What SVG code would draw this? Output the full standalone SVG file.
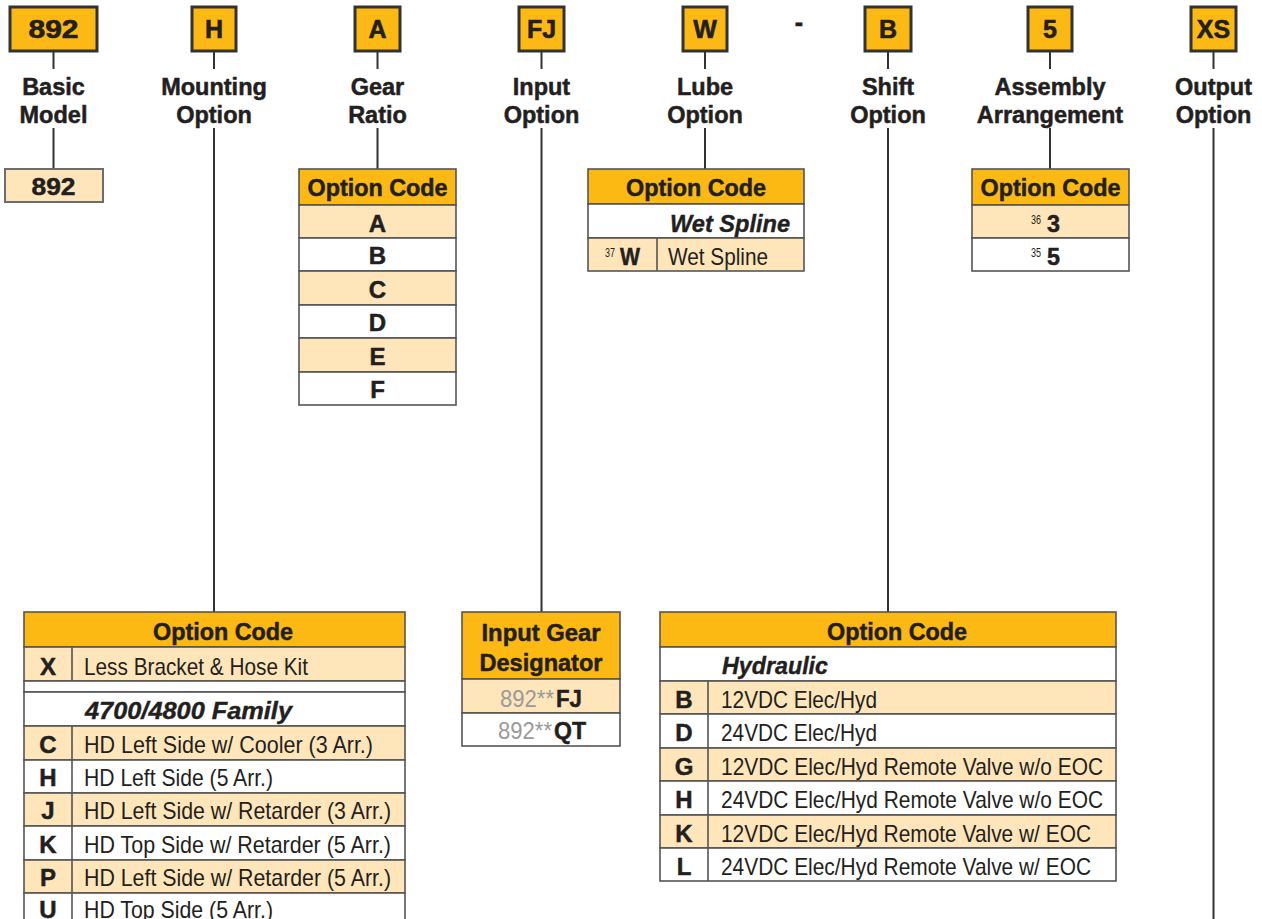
<svg xmlns="http://www.w3.org/2000/svg" width="1262" height="919" viewBox="0 0 1262 919">
<style>
text{font-family:"Liberation Sans",Arial,sans-serif;fill:#231f20}
.code{fill:#fdb913;stroke:#333;stroke-width:3}
.ct{font-size:25px;font-weight:bold;text-anchor:middle;stroke:#231f20;stroke-width:0.6}
.lbl{font-size:23.5px;font-weight:bold;text-anchor:middle;stroke:#231f20;stroke-width:0.5}
.hd{fill:#fdb913;stroke:#555;stroke-width:1.6}
.lt{fill:#ffe6ba;stroke:#555;stroke-width:1.6}
.wh{fill:#fff;stroke:#555;stroke-width:1.6}
.ht{font-size:24px;font-weight:bold;text-anchor:middle;stroke:#231f20;stroke-width:0.5}
.bc{font-size:24px;font-weight:bold;text-anchor:middle;stroke:#231f20;stroke-width:0.5}
.rg{font-size:24px}
.bi{font-size:24px;font-weight:bold;font-style:italic;stroke:#231f20;stroke-width:0.4}
.bb{font-size:24px;font-weight:bold;stroke:#231f20;stroke-width:0.5}
.sup{font-size:13px}
.gr{fill:#9a9a9a}
.dv{stroke:#555;stroke-width:1.6}
.cn{stroke:#333;stroke-width:2;fill:none}
</style>
<g id="connectors">
<path class="cn" d="M53.5 52V69M53.5 128V168"/>
<path class="cn" d="M214 52V69M214 128V612"/>
<path class="cn" d="M377.5 52V69M377.5 128V169"/>
<path class="cn" d="M541.5 52V69M541.5 128V612"/>
<path class="cn" d="M705 52V69M705 128V169"/>
<path class="cn" d="M888 52V69M888 128V612"/>
<path class="cn" d="M1050 52V69M1050 128V169"/>
<path class="cn" d="M1213.5 52V69M1213.5 128V919"/>
</g>
<g id="dash"><text x="799" y="31" class="ct">-</text></g>
<g id="basic-model">
<rect class="code" x="10" y="7" width="87" height="44"/>
<text x="53.5" y="38" class="ct" textLength="50" lengthAdjust="spacingAndGlyphs">892</text>
<text x="53.5" y="95" class="lbl">Basic</text>
<text x="53.5" y="123" class="lbl">Model</text>
</g>
<g id="basic-model-table">
<rect x="5" y="169" width="98" height="33" fill="#ffe6ba" stroke="#6d6d6d" stroke-width="2"/>
<text x="53.5" y="195" class="bc" textLength="44" lengthAdjust="spacingAndGlyphs">892</text>
</g>
<g id="mounting-option">
<rect class="code" x="192" y="7" width="44" height="44"/>
<text x="214" y="38" class="ct">H</text>
<text x="214" y="95" class="lbl">Mounting</text>
<text x="214" y="123" class="lbl">Option</text>
</g>
<g id="gear-ratio">
<rect class="code" x="355" y="7" width="45" height="44"/>
<text x="377.5" y="38" class="ct">A</text>
<text x="377.5" y="95" class="lbl">Gear</text>
<text x="377.5" y="123" class="lbl">Ratio</text>
</g>
<g id="input-option">
<rect class="code" x="519" y="7" width="45" height="44"/>
<text x="541.5" y="38" class="ct">FJ</text>
<text x="541.5" y="95" class="lbl">Input</text>
<text x="541.5" y="123" class="lbl">Option</text>
</g>
<g id="lube-option">
<rect class="code" x="683" y="7" width="44" height="44"/>
<text x="705" y="38" class="ct">W</text>
<text x="705" y="95" class="lbl">Lube</text>
<text x="705" y="123" class="lbl">Option</text>
</g>
<g id="shift-option">
<rect class="code" x="865" y="7" width="46" height="44"/>
<text x="888" y="38" class="ct">B</text>
<text x="888" y="95" class="lbl">Shift</text>
<text x="888" y="123" class="lbl">Option</text>
</g>
<g id="assembly-arrangement">
<rect class="code" x="1028" y="7" width="44" height="44"/>
<text x="1050" y="38" class="ct">5</text>
<text x="1050" y="95" class="lbl">Assembly</text>
<text x="1050" y="123" class="lbl">Arrangement</text>
</g>
<g id="output-option">
<rect class="code" x="1191" y="7" width="45" height="44"/>
<text x="1213.5" y="38" class="ct">XS</text>
<text x="1213.5" y="95" class="lbl">Output</text>
<text x="1213.5" y="123" class="lbl">Option</text>
</g>
<g id="gear-ratio-table">
<rect class="hd" x="299" y="169" width="157" height="36"/>
<rect class="lt" x="299" y="205" width="157" height="33"/>
<rect class="wh" x="299" y="238" width="157" height="33"/>
<rect class="lt" x="299" y="271" width="157" height="34"/>
<rect class="wh" x="299" y="305" width="157" height="33"/>
<rect class="lt" x="299" y="338" width="157" height="34"/>
<rect class="wh" x="299" y="372" width="157" height="33"/>
<text x="377.5" y="196" class="ht" textLength="140" lengthAdjust="spacingAndGlyphs">Option Code</text>
<text x="377.5" y="232" class="bc">A</text>
<text x="377.5" y="264" class="bc">B</text>
<text x="377.5" y="298" class="bc">C</text>
<text x="377.5" y="331" class="bc">D</text>
<text x="377.5" y="365" class="bc">E</text>
<text x="377.5" y="398" class="bc">F</text>
</g>
<g id="lube-table">
<rect class="hd" x="588" y="169" width="216" height="35"/>
<rect class="wh" x="588" y="204" width="216" height="34"/>
<rect class="lt" x="588" y="238" width="216" height="33"/>
<line class="dv" x1="657" y1="238" x2="657" y2="271"/>
<text x="696" y="196" class="ht" textLength="140" lengthAdjust="spacingAndGlyphs">Option Code</text>
<text x="670" y="232" class="bi" textLength="120" lengthAdjust="spacingAndGlyphs">Wet Spline</text>
<text x="605" y="257" class="sup" textLength="10" lengthAdjust="spacingAndGlyphs">37</text>
<text x="620" y="265" class="bb" textLength="20" lengthAdjust="spacingAndGlyphs">W</text>
<text x="668" y="265" class="rg" textLength="100" lengthAdjust="spacingAndGlyphs">Wet Spline</text>
</g>
<g id="assembly-table">
<rect class="hd" x="972" y="169" width="157" height="36"/>
<rect class="lt" x="972" y="205" width="157" height="33"/>
<rect class="wh" x="972" y="238" width="157" height="33"/>
<text x="1050.5" y="196" class="ht" textLength="140" lengthAdjust="spacingAndGlyphs">Option Code</text>
<text x="1031" y="224" class="sup" textLength="10" lengthAdjust="spacingAndGlyphs">36</text>
<text x="1047" y="232" class="bb" textLength="13" lengthAdjust="spacingAndGlyphs">3</text>
<text x="1031" y="257" class="sup" textLength="10" lengthAdjust="spacingAndGlyphs">35</text>
<text x="1047" y="265" class="bb" textLength="13" lengthAdjust="spacingAndGlyphs">5</text>
</g>
<g id="mounting-table">
<rect class="hd" x="24" y="612" width="381" height="35"/>
<rect class="lt" x="24" y="647" width="381" height="34"/>
<rect class="wh" x="24" y="681" width="381" height="11"/>
<rect class="wh" x="24" y="692" width="381" height="34"/>
<rect class="lt" x="24" y="726" width="381" height="34"/>
<rect class="wh" x="24" y="760" width="381" height="33"/>
<rect class="lt" x="24" y="793" width="381" height="33"/>
<rect class="wh" x="24" y="826" width="381" height="34"/>
<rect class="lt" x="24" y="860" width="381" height="33"/>
<rect class="wh" x="24" y="893" width="381" height="34"/>
<path class="dv" d="M72 647V681M72 726V927"/>
<text x="223" y="640" class="ht" textLength="140" lengthAdjust="spacingAndGlyphs">Option Code</text>
<text x="48" y="675" class="bc">X</text>
<text x="84" y="675" class="rg" textLength="224" lengthAdjust="spacingAndGlyphs">Less Bracket &amp; Hose Kit</text>
<text x="85" y="719" class="bi" textLength="207" lengthAdjust="spacingAndGlyphs">4700/4800 Family</text>
<text x="48" y="753" class="bc">C</text>
<text x="84" y="753" class="rg" textLength="289" lengthAdjust="spacingAndGlyphs">HD Left Side w/ Cooler (3 Arr.)</text>
<text x="48" y="786" class="bc">H</text>
<text x="84" y="786" class="rg" textLength="189" lengthAdjust="spacingAndGlyphs">HD Left Side (5 Arr.)</text>
<text x="48" y="819" class="bc">J</text>
<text x="84" y="819" class="rg" textLength="307" lengthAdjust="spacingAndGlyphs">HD Left Side w/ Retarder (3 Arr.)</text>
<text x="48" y="853" class="bc">K</text>
<text x="84" y="853" class="rg" textLength="307" lengthAdjust="spacingAndGlyphs">HD Top Side w/ Retarder (5 Arr.)</text>
<text x="48" y="886" class="bc">P</text>
<text x="84" y="886" class="rg" textLength="307" lengthAdjust="spacingAndGlyphs">HD Left Side w/ Retarder (5 Arr.)</text>
<text x="48" y="918" class="bc">U</text>
<text x="84" y="918" class="rg" textLength="189" lengthAdjust="spacingAndGlyphs">HD Top Side (5 Arr.)</text>
</g>
<g id="input-gear-table">
<rect class="hd" x="462" y="612" width="158" height="67"/>
<rect class="lt" x="462" y="679" width="158" height="34"/>
<rect class="wh" x="462" y="713" width="158" height="33"/>
<text x="541" y="641" class="ht" textLength="119" lengthAdjust="spacingAndGlyphs">Input Gear</text>
<text x="541" y="671" class="ht" textLength="123" lengthAdjust="spacingAndGlyphs">Designator</text>
<text x="500" y="707" class="rg gr" textLength="54" lengthAdjust="spacingAndGlyphs">892**</text>
<text x="556" y="707" class="bb" textLength="26" lengthAdjust="spacingAndGlyphs">FJ</text>
<text x="498" y="739" class="rg gr" textLength="54" lengthAdjust="spacingAndGlyphs">892**</text>
<text x="554" y="739" class="bb" textLength="32" lengthAdjust="spacingAndGlyphs">QT</text>
</g>
<g id="shift-table">
<rect class="hd" x="660" y="612" width="456" height="35"/>
<rect class="wh" x="660" y="647" width="456" height="34"/>
<rect class="lt" x="660" y="681" width="456" height="33"/>
<rect class="wh" x="660" y="714" width="456" height="34"/>
<rect class="lt" x="660" y="748" width="456" height="33"/>
<rect class="wh" x="660" y="781" width="456" height="34"/>
<rect class="lt" x="660" y="815" width="456" height="33"/>
<rect class="wh" x="660" y="848" width="456" height="33"/>
<path class="dv" d="M708 681V881"/>
<text x="897" y="640" class="ht" textLength="140" lengthAdjust="spacingAndGlyphs">Option Code</text>
<text x="722" y="674" class="bi" textLength="106" lengthAdjust="spacingAndGlyphs">Hydraulic</text>
<text x="684" y="708" class="bc">B</text>
<text x="721" y="708" class="rg" textLength="156" lengthAdjust="spacingAndGlyphs">12VDC Elec/Hyd</text>
<text x="684" y="741" class="bc">D</text>
<text x="721" y="741" class="rg" textLength="156" lengthAdjust="spacingAndGlyphs">24VDC Elec/Hyd</text>
<text x="684" y="775" class="bc">G</text>
<text x="721" y="775" class="rg" textLength="382" lengthAdjust="spacingAndGlyphs">12VDC Elec/Hyd Remote Valve w/o EOC</text>
<text x="684" y="808" class="bc">H</text>
<text x="721" y="808" class="rg" textLength="382" lengthAdjust="spacingAndGlyphs">24VDC Elec/Hyd Remote Valve w/o EOC</text>
<text x="684" y="842" class="bc">K</text>
<text x="721" y="842" class="rg" textLength="370" lengthAdjust="spacingAndGlyphs">12VDC Elec/Hyd Remote Valve w/ EOC</text>
<text x="684" y="875" class="bc">L</text>
<text x="721" y="875" class="rg" textLength="370" lengthAdjust="spacingAndGlyphs">24VDC Elec/Hyd Remote Valve w/ EOC</text>
</g>
</svg>
